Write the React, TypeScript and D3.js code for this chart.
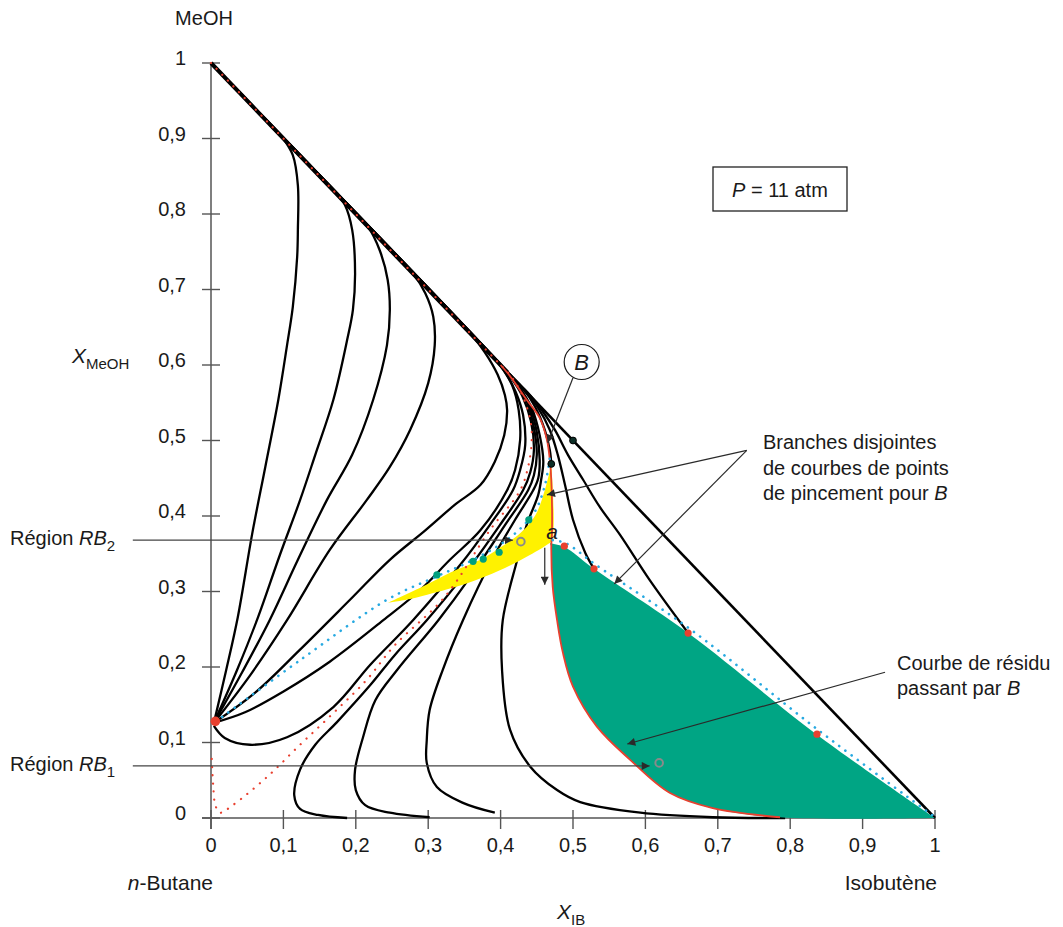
import React from 'react';
import * as d3 from 'd3';

type P = [number, number];

// ---- axes ----
const xTickValues = [0, 0.1, 0.2, 0.3, 0.4, 0.5, 0.6, 0.7, 0.8, 0.9, 1];
const yTickValues = [0, 0.1, 0.2, 0.3, 0.4, 0.5, 0.6, 0.7, 0.8, 0.9, 1];
const tickLabel = (v: number) => (Math.round(v * 10) / 10).toString().replace('.', ',');

// ---- triangle edge MeOH - Isobutene ----
const hypotenuse: P[] = [[0, 1], [1, 0]];
const hypotenuseBundle: P[] = [[0, 1], [0.41, 0.59]];

// ---- residue curves ending at the n-butane/MeOH azeotrope ----
const curveC1: P[] = [[0, 1], [0.081, 0.919], [0.098, 0.902], [0.113, 0.878], [0.12, 0.838], [0.12, 0.779], [0.119, 0.743], [0.113, 0.677], [0.105, 0.626], [0.093, 0.554], [0.075, 0.465], [0.057, 0.377], [0.037, 0.266], [0.021, 0.196], [0.004, 0.126]];
const curveC2: P[] = [[0, 1], [0.151, 0.849], [0.169, 0.832], [0.185, 0.812], [0.195, 0.779], [0.199, 0.722], [0.196, 0.673], [0.188, 0.633], [0.169, 0.554], [0.144, 0.481], [0.123, 0.421], [0.095, 0.348], [0.065, 0.266], [0.036, 0.196], [0.004, 0.126]];
const curveC3: P[] = [[0, 1], [0.199, 0.801], [0.217, 0.783], [0.233, 0.752], [0.244, 0.713], [0.247, 0.673], [0.243, 0.626], [0.224, 0.554], [0.195, 0.481], [0.16, 0.421], [0.12, 0.342], [0.081, 0.262], [0.043, 0.193], [0.004, 0.126]];
const curveC4: P[] = [[0, 1], [0.261, 0.739], [0.279, 0.721], [0.296, 0.695], [0.307, 0.664], [0.309, 0.626], [0.3, 0.576], [0.275, 0.514], [0.247, 0.465], [0.215, 0.421], [0.164, 0.355], [0.105, 0.262], [0.054, 0.189], [0.004, 0.126]];
const curveC5: P[] = [[0, 1], [0.344, 0.656], [0.358, 0.642], [0.378, 0.617], [0.396, 0.587], [0.406, 0.56], [0.409, 0.54], [0.405, 0.507], [0.392, 0.472], [0.372, 0.441], [0.337, 0.415], [0.296, 0.381], [0.247, 0.342], [0.192, 0.289], [0.123, 0.223], [0.061, 0.166], [0.004, 0.126]];
const curveC6: P[] = [[0, 1], [0.385, 0.615], [0.399, 0.6], [0.416, 0.573], [0.425, 0.54], [0.427, 0.501], [0.42, 0.461], [0.409, 0.434], [0.372, 0.381], [0.33, 0.342], [0.289, 0.302], [0.238, 0.262], [0.164, 0.207], [0.099, 0.167], [0.047, 0.14], [0.004, 0.126]];
const curveF: P[] = [[0, 1], [0.392, 0.608], [0.406, 0.591], [0.421, 0.564], [0.431, 0.534], [0.434, 0.494], [0.427, 0.461], [0.417, 0.434], [0.385, 0.388], [0.344, 0.335], [0.279, 0.262], [0.22, 0.203], [0.169, 0.147], [0.105, 0.107], [0.054, 0.097], [0.019, 0.106], [0.004, 0.122]];

// ---- residue curves ending on the n-butane / isobutene edge ----
const curveE1: P[] = [[0, 1], [0.396, 0.604], [0.413, 0.585], [0.43, 0.559], [0.442, 0.525], [0.446, 0.487], [0.441, 0.458], [0.431, 0.434], [0.399, 0.388], [0.347, 0.319], [0.298, 0.262], [0.254, 0.216], [0.22, 0.176], [0.174, 0.127], [0.144, 0.097], [0.123, 0.064], [0.115, 0.03], [0.123, 0.012], [0.148, 0.004], [0.188, 0]];
const curveE2: P[] = [[0, 1], [0.402, 0.598], [0.417, 0.581], [0.435, 0.554], [0.446, 0.517], [0.45, 0.481], [0.446, 0.454], [0.438, 0.434], [0.406, 0.388], [0.358, 0.319], [0.314, 0.262], [0.257, 0.196], [0.227, 0.156], [0.21, 0.107], [0.199, 0.064], [0.2, 0.037], [0.213, 0.017], [0.247, 0.007], [0.302, 0.001]];
const curveE3: P[] = [[0, 1], [0.406, 0.594], [0.421, 0.576], [0.439, 0.548], [0.45, 0.511], [0.454, 0.474], [0.452, 0.45], [0.445, 0.434], [0.42, 0.395], [0.388, 0.342], [0.348, 0.262], [0.32, 0.196], [0.302, 0.143], [0.298, 0.103], [0.298, 0.073], [0.312, 0.041], [0.348, 0.02], [0.392, 0.007]];
const curveE4: P[] = [[0, 1], [0.41, 0.59], [0.425, 0.572], [0.443, 0.543], [0.454, 0.507], [0.459, 0.472], [0.456, 0.448], [0.452, 0.428], [0.436, 0.388], [0.423, 0.342], [0.403, 0.262], [0.402, 0.196], [0.413, 0.117], [0.441, 0.068], [0.478, 0.037], [0.51, 0.021], [0.593, 0.007], [0.693, 0.001], [0.793, 0]];

// ---- residue curves right of the separatrix ----
const curveG: P[] = [[0, 1], [0.413, 0.587], [0.43, 0.57], [0.448, 0.544], [0.461, 0.514], [0.468, 0.487], [0.47, 0.469]];
const curveR1: P[] = [[0, 1], [0.416, 0.584], [0.432, 0.567], [0.452, 0.543], [0.468, 0.514], [0.479, 0.481], [0.489, 0.441], [0.5, 0.395], [0.517, 0.351], [0.529, 0.33]];
const curveR2: P[] = [[0, 1], [0.42, 0.58], [0.438, 0.563], [0.457, 0.54], [0.475, 0.514], [0.493, 0.481], [0.514, 0.448], [0.537, 0.412], [0.565, 0.375], [0.606, 0.315], [0.659, 0.245]];

// ---- separatrices ----
const separatrixSolid: P[] = [[0.4, 0.6], [0.41, 0.589], [0.42, 0.576], [0.436, 0.554], [0.454, 0.53], [0.464, 0.501], [0.468, 0.474], [0.47, 0.448], [0.471, 0.381], [0.47, 0.359], [0.472, 0.306], [0.478, 0.262], [0.486, 0.219], [0.5, 0.174], [0.533, 0.121], [0.579, 0.077], [0.634, 0.033], [0.693, 0.013], [0.786, 0.001]];
const separatrixDotted: P[] = [[0, 1], [0.399, 0.601], [0.413, 0.587], [0.43, 0.56], [0.441, 0.527], [0.443, 0.501], [0.438, 0.465], [0.427, 0.434], [0.385, 0.381], [0.323, 0.293], [0.254, 0.229], [0.215, 0.183], [0.169, 0.139], [0.123, 0.097], [0.077, 0.054], [0.03, 0.017], [0.012, 0.007], [0.006, 0.017], [0.003, 0.044], [0.001, 0.079]];

// ---- pinch point curve branches ----
const pinchBranch1: P[] = [[0.007, 0.128], [0.123, 0.209], [0.243, 0.289], [0.307, 0.318], [0.358, 0.34], [0.399, 0.362], [0.427, 0.383], [0.448, 0.407], [0.461, 0.44], [0.468, 0.477]];
const pinchBranch2: P[] = [[0.472, 0.368], [0.49, 0.364], [0.532, 0.335], [0.662, 0.25], [0.838, 0.117], [1, 0.001]];

// ---- regions ----
const yellowUpper: P[] = [[0.244, 0.285], [0.289, 0.305], [0.33, 0.325], [0.372, 0.342], [0.399, 0.358], [0.427, 0.377], [0.448, 0.401], [0.461, 0.434], [0.47, 0.468]];
const yellowLower: P[] = [[0.47, 0.468], [0.471, 0.368], [0.464, 0.362], [0.436, 0.346], [0.399, 0.328], [0.354, 0.311], [0.307, 0.298], [0.275, 0.29], [0.244, 0.285]];
const greenTop: P[] = [[0.468, 0.364], [0.488, 0.359], [0.529, 0.33], [0.659, 0.245], [0.836, 0.111], [1, 0]];
const greenLeft: P[] = [[0.468, 0.364], [0.47, 0.359], [0.472, 0.306], [0.478, 0.262], [0.486, 0.219], [0.5, 0.174], [0.533, 0.121], [0.579, 0.077], [0.634, 0.033], [0.693, 0.013], [0.786, 0.001], [1, 0]];

// ---- points ----
const tealDots: P[] = [[0.312, 0.322], [0.362, 0.34], [0.376, 0.343], [0.398, 0.352], [0.439, 0.395]];
const darkDots: P[] = [[0.47, 0.469], [0.5, 0.5]];
const redPoints: P[] = [[0.488, 0.36], [0.529, 0.33], [0.659, 0.245], [0.837, 0.111]];
const azeotrope: P = [0.006, 0.128];
const grayCircles: P[] = [[0.428, 0.366], [0.619, 0.073]];

// ---- annotations (data coordinates) ----
const regionRB2: P[] = [[-0.108, 0.368], [0.417, 0.368]];
const regionRB1: P[] = [[-0.108, 0.069], [0.606, 0.069]];
const branchLeaderA: P[] = [[0.74, 0.487], [0.464, 0.428]];
const branchLeaderB: P[] = [[0.74, 0.487], [0.557, 0.31]];
const residueLeader: P[] = [[0.931, 0.193], [0.575, 0.098]];
const bLeader: P[] = [[0.5, 0.583], [0.465, 0.497]];
const bCircle: P = [0.512, 0.604];
const aArrow: P[] = [[0.461, 0.358], [0.461, 0.309]];
const aLabel: P = [0.471, 0.37];

const blackCurves = [curveC1, curveC2, curveC3, curveC4, curveC5, curveC6, curveF, curveE1, curveE2, curveE3, curveE4, curveG, curveR1, curveR2];

const FONT = '"Liberation Sans", Arial, Helvetica, sans-serif';

export default function App() {
  const W = 1063;
  const H = 927;
  const x = d3.scaleLinear().domain([0, 1]).range([211, 935]);
  const y = d3.scaleLinear().domain([0, 1]).range([818, 63]);
  const smooth = d3.line<P>().x(d => x(d[0])).y(d => y(d[1])).curve(d3.curveCatmullRom.alpha(0.5));
  const straight = d3.line<P>().x(d => x(d[0])).y(d => y(d[1]));
  const ring = (a: P[], b: P[]) => (smooth(a) as string) + (smooth(b) as string).replace(/^M/, 'L') + 'Z';

  const yellowPath = ring(yellowUpper, yellowLower);
  const greenPath = ring(greenTop, [...greenLeft].reverse());

  const axisColor = '#555';
  const leader = '#2a2a2a';

  return (
    <svg width={W} height={H} style={{ position: 'absolute', left: 0, top: 0, display: 'block', background: '#fff' }} fontFamily={FONT}>
      <defs>
        <marker id="arr" viewBox="0 0 10 10" refX="10" refY="5" markerWidth="10" markerHeight="8" markerUnits="userSpaceOnUse" orient="auto">
          <path d="M0,0 L10,5 L0,10 z" fill={leader} />
        </marker>
      </defs>

      {/* axes */}
      <line x1={x(0)} x2={x(0)} y1={y(1)} y2={y(0) + 11} stroke={axisColor} strokeWidth={1.5} />
      <line x1={x(0) - 9} x2={x(1)} y1={y(0)} y2={y(0)} stroke={axisColor} strokeWidth={1.5} />
      {yTickValues.map(t => (
        <g key={'yt' + t}>
          <line x1={x(0) - 9} x2={x(0) + 9} y1={y(t)} y2={y(t)} stroke={axisColor} strokeWidth={1.4} />
          <text x={186} y={y(t) + 2} textAnchor="end" fontSize={20} fill="#1a1a1a">{tickLabel(t)}</text>
        </g>
      ))}
      {xTickValues.map(t => (
        <g key={'xt' + t}>
          <line x1={x(t)} x2={x(t)} y1={y(0) - 8} y2={y(0) + 11} stroke={axisColor} strokeWidth={1.4} />
          <text x={x(t)} y={852} textAnchor="middle" fontSize={20} fill="#1a1a1a">{tickLabel(t)}</text>
        </g>
      ))}

      {/* residue curves */}
      {blackCurves.map((c, i) => (
        <path key={'c' + i} d={smooth(c) as string} fill="none" stroke="#000" strokeWidth={2.3} strokeLinejoin="round" />
      ))}
      <path d={straight(hypotenuse) as string} stroke="#000" strokeWidth={2.6} fill="none" />
      <path d={straight(hypotenuseBundle) as string} stroke="#000" strokeWidth={4} fill="none" />

      {/* regions */}
      <path d={greenPath} fill="#00a584" stroke="none" />
      <path d={yellowPath} fill="#fff200" stroke="none" />

      {/* separatrices and pinch branches */}
      <path d={smooth(separatrixSolid) as string} fill="none" stroke="#e8402f" strokeWidth={1.8} />
      <path d={smooth(separatrixDotted) as string} fill="none" stroke="#e8402f" strokeWidth={2.2} strokeDasharray="0.1 8" strokeLinecap="round" />
      <path d={smooth(pinchBranch1) as string} fill="none" stroke="#27a9e1" strokeWidth={2.6} strokeDasharray="0.1 7.6" strokeLinecap="round" />
      <path d={smooth(pinchBranch2) as string} fill="none" stroke="#27a9e1" strokeWidth={2.6} strokeDasharray="0.1 7.6" strokeLinecap="round" />

      {/* points */}
      {tealDots.map((p, i) => <circle key={'t' + i} cx={x(p[0])} cy={y(p[1])} r={3.6} fill="#00a07e" />)}
      {redPoints.map((p, i) => <circle key={'r' + i} cx={x(p[0])} cy={y(p[1])} r={3.6} fill="#e8402f" />)}
      <circle cx={x(azeotrope[0])} cy={y(azeotrope[1])} r={4.8} fill="#e8402f" />
      {darkDots.map((p, i) => <circle key={'d' + i} cx={x(p[0])} cy={y(p[1])} r={3.4} fill="#0d2f27" stroke="#000" strokeWidth={1} />)}
      {grayCircles.map((p, i) => <circle key={'g' + i} cx={x(p[0])} cy={y(p[1])} r={3.8} fill="none" stroke="#8a8a8a" strokeWidth={2} />)}

      {/* annotation lines */}
      <path d={straight(regionRB2) as string} stroke="#444" strokeWidth={1.4} fill="none" markerEnd="url(#arr)" />
      <path d={straight(regionRB1) as string} stroke="#444" strokeWidth={1.4} fill="none" markerEnd="url(#arr)" />
      <path d={straight(branchLeaderA) as string} stroke={leader} strokeWidth={1.2} fill="none" markerEnd="url(#arr)" />
      <path d={straight(branchLeaderB) as string} stroke={leader} strokeWidth={1.2} fill="none" markerEnd="url(#arr)" />
      <path d={straight(residueLeader) as string} stroke={leader} strokeWidth={1.2} fill="none" markerEnd="url(#arr)" />
      <path d={straight(bLeader) as string} stroke={leader} strokeWidth={1.2} fill="none" markerEnd="url(#arr)" />
      <path d={straight(aArrow) as string} stroke={leader} strokeWidth={1.2} fill="none" markerEnd="url(#arr)" />
      <circle cx={x(bCircle[0])} cy={y(bCircle[1])} r={17.5} fill="#fff" stroke="#1a1a1a" strokeWidth={1.2} />
      <text x={x(bCircle[0])} y={y(bCircle[1]) + 8} textAnchor="middle" fontSize={22} fontStyle="italic" fill="#1a1a1a">B</text>
      <text x={x(aLabel[0])} y={y(aLabel[1])} textAnchor="middle" fontSize={21} fontStyle="italic" fill="#1a1a1a">a</text>

      {/* text labels */}
      <text x={204} y={25} textAnchor="middle" fontSize={20} fill="#1a1a1a">MeOH</text>
      <text x={72} y={363} fontSize={21} fill="#1a1a1a">
        <tspan fontStyle="italic">X</tspan>
        <tspan fontSize={15} dy={6}>MeOH</tspan>
      </text>
      <text x={213} y={890} textAnchor="end" fontSize={21} fill="#1a1a1a">
        <tspan fontStyle="italic">n</tspan>-Butane
      </text>
      <text x={937} y={890} textAnchor="end" fontSize={21} fill="#1a1a1a">Isobutène</text>
      <text x={557} y={919} fontSize={21} fill="#1a1a1a">
        <tspan fontStyle="italic">X</tspan>
        <tspan fontSize={15} dy={6}>IB</tspan>
      </text>
      <text x={10} y={545} fontSize={20} fill="#1a1a1a">
        Région <tspan fontStyle="italic">RB</tspan><tspan fontSize={15} dy={6}>2</tspan>
      </text>
      <text x={10} y={771} fontSize={20} fill="#1a1a1a">
        Région <tspan fontStyle="italic">RB</tspan><tspan fontSize={15} dy={6}>1</tspan>
      </text>
      <g fontSize={20} fill="#1a1a1a">
        <text x={763} y={449}>Branches disjointes</text>
        <text x={763} y={475}>de courbes de points</text>
        <text x={763} y={500}>de pincement pour <tspan fontStyle="italic">B</tspan></text>
        <text x={897} y={670}>Courbe de résidu</text>
        <text x={897} y={695}>passant par <tspan fontStyle="italic">B</tspan></text>
      </g>
      <rect x={713} y={167} width={134} height={44} fill="none" stroke="#222" strokeWidth={1.3} />
      <text x={732} y={197} fontSize={20} fill="#1a1a1a">
        <tspan fontStyle="italic">P</tspan> = 11 atm
      </text>
    </svg>
  );
}
